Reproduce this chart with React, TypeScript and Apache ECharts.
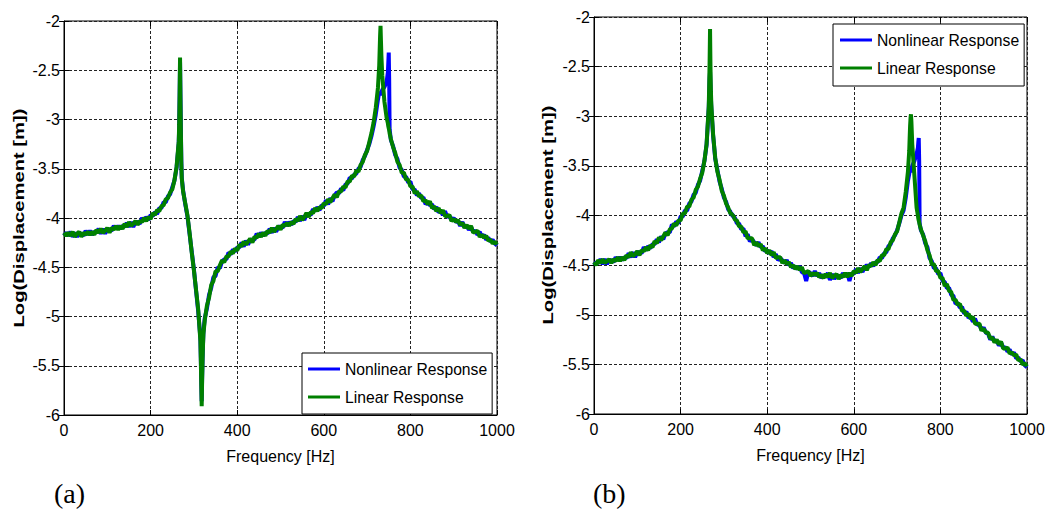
import React, { useEffect, useRef } from "react";
import * as echarts from "echarts";

// Frequency samples [Hz] shared by all four curves
const FREQ = [
  0, 5, 10, 15, 20, 25, 30, 35, 40, 45, 50, 55, 60, 65, 70, 75, 80, 85, 90, 95,
  100, 105, 110, 115, 120, 125, 130, 135, 140, 145, 150, 155, 160, 165, 170, 175, 180, 185, 190, 195,
  200, 205, 210, 215, 220, 225, 230, 235, 240, 245, 250, 255, 260,
  265, 266, 267, 268, 269, 270, 271, 272, 275,
  280, 285, 290, 295, 300, 305, 310, 315,
  316, 317, 318, 319, 320, 321, 322, 325,
  330, 335, 340, 345, 350, 355, 360, 365, 370, 375, 380, 385, 390, 395, 400, 405, 410, 415, 420, 425,
  430, 435, 440, 445, 450, 455, 460, 465, 470, 475, 480, 485, 490, 495, 500, 505, 510, 515, 520, 525,
  530, 535, 540, 545, 550, 555, 560, 565, 570, 575, 580, 585, 590, 595, 600, 605, 610, 615, 620, 625,
  630, 635, 640, 645, 650, 655, 660, 665, 670, 675, 680, 685, 690, 695, 700, 705, 710, 715, 720, 725,
  728, 729, 730, 731, 732, 733, 735, 740, 745,
  748, 749, 750, 751, 752, 755,
  760, 765, 770, 775, 780, 785, 790, 795, 800, 805, 810, 815, 820, 825, 830, 835, 840, 845, 850, 855,
  860, 865, 870, 875, 880, 885, 890, 895, 900, 905, 910, 915, 920, 925, 930, 935, 940, 945, 950, 955,
  960, 965, 970, 975, 980, 985, 990, 995, 1000,
];

// Panel (a) - nonlinear response
const NONLIN_A = [
  -4.18, -4.15, -4.18, -4.14, -4.19, -4.15, -4.19, -4.15, -4.16, -4.18, -4.13, -4.17, -4.13, -4.17, -4.14, -4.15, -4.11, -4.16, -4.11, -4.16,
  -4.11, -4.12, -4.13, -4.08, -4.11, -4.08, -4.11, -4.08, -4.09, -4.05, -4.09, -4.04, -4.09, -4.04, -4.04, -4.06, -4.0, -4.03, -3.99, -4.02,
  -3.97, -3.98, -3.94, -3.96, -3.9, -3.9, -3.84, -3.84, -3.78, -3.76, -3.69, -3.62, -3.49,
  -3.24, -3.08, -2.78, -2.42, -2.78, -3.12, -3.43, -3.59, -3.72,
  -3.86, -3.98, -4.16, -4.34, -4.52, -4.74, -4.95, -5.22,
  -5.42, -5.66, -5.86, -5.62, -5.43, -5.28, -5.16, -5.02,
  -4.92, -4.78, -4.71, -4.6, -4.59, -4.5, -4.51, -4.44, -4.42, -4.42, -4.35, -4.37, -4.32, -4.34, -4.3, -4.3, -4.25, -4.29, -4.23, -4.27,
  -4.22, -4.22, -4.22, -4.16, -4.19, -4.15, -4.18, -4.15, -4.16, -4.11, -4.15, -4.1, -4.14, -4.09, -4.09, -4.1, -4.04, -4.08, -4.04, -4.07,
  -4.03, -4.04, -3.99, -4.03, -3.98, -4.02, -3.96, -3.96, -3.97, -3.91, -3.93, -3.89, -3.92, -3.87, -3.88, -3.82, -3.86, -3.8, -3.83, -3.77,
  -3.74, -3.75, -3.7, -3.72, -3.66, -3.65, -3.59, -3.6, -3.56, -3.55, -3.5, -3.48, -3.41, -3.37, -3.31, -3.25, -3.17, -3.07, -2.95, -2.8,
  -2.72, -2.73, -2.74, -2.75, -2.74, -2.72, -2.7, -2.67, -2.62,
  -2.52, -2.42, -2.32, -2.6, -3.1, -3.21,
  -3.27, -3.36, -3.4, -3.49, -3.51, -3.58, -3.58, -3.64, -3.63, -3.71, -3.71, -3.77, -3.75, -3.8, -3.79, -3.86, -3.84, -3.87, -3.86, -3.91,
  -3.89, -3.94, -3.93, -3.97, -3.93, -3.99, -3.98, -4.02, -4.0, -4.04, -4.03, -4.08, -4.04, -4.09, -4.08, -4.12, -4.09, -4.14, -4.13, -4.17,
  -4.14, -4.19, -4.17, -4.22, -4.2, -4.24, -4.22, -4.26, -4.28,
];

// Panel (a) - linear response
const LIN_A = [
  -4.15, -4.18, -4.15, -4.18, -4.14, -4.19, -4.16, -4.14, -4.19, -4.15, -4.17, -4.14, -4.17, -4.14, -4.17, -4.12, -4.15, -4.11, -4.15, -4.13,
  -4.1, -4.15, -4.1, -4.12, -4.08, -4.12, -4.08, -4.11, -4.06, -4.09, -4.04, -4.08, -4.06, -4.03, -4.07, -4.03, -4.04, -4.0, -4.03, -3.99,
  -4.01, -3.95, -3.97, -3.92, -3.93, -3.88, -3.87, -3.81, -3.8, -3.74, -3.71, -3.62, -3.48,
  -3.22, -3.05, -2.75, -2.37, -2.8, -3.15, -3.45, -3.6, -3.73,
  -3.85, -3.97, -4.15, -4.35, -4.53, -4.73, -4.93, -5.25,
  -5.45, -5.7, -5.91, -5.65, -5.45, -5.3, -5.18, -5.04,
  -4.89, -4.81, -4.68, -4.64, -4.54, -4.54, -4.48, -4.43, -4.45, -4.39, -4.39, -4.34, -4.36, -4.31, -4.33, -4.27, -4.29, -4.24, -4.27, -4.24,
  -4.21, -4.25, -4.19, -4.2, -4.16, -4.19, -4.15, -4.18, -4.13, -4.15, -4.1, -4.14, -4.11, -4.08, -4.12, -4.07, -4.08, -4.05, -4.08, -4.04,
  -4.06, -4.01, -4.03, -3.98, -4.02, -3.99, -3.95, -3.99, -3.94, -3.95, -3.9, -3.93, -3.89, -3.9, -3.85, -3.86, -3.81, -3.84, -3.8, -3.76,
  -3.79, -3.73, -3.73, -3.68, -3.69, -3.63, -3.63, -3.57, -3.58, -3.52, -3.53, -3.46, -3.43, -3.36, -3.32, -3.23, -3.14, -3.03, -2.88, -2.68,
  -2.45, -2.3, -2.15, -2.05, -2.2, -2.35, -2.55, -2.82, -2.98,
  -3.04, -3.07, -3.09, -3.11, -3.14, -3.2,
  -3.28, -3.34, -3.43, -3.46, -3.54, -3.54, -3.61, -3.61, -3.68, -3.68, -3.75, -3.73, -3.78, -3.77, -3.83, -3.82, -3.86, -3.83, -3.9, -3.88,
  -3.93, -3.9, -3.95, -3.92, -3.98, -3.98, -3.97, -4.03, -4.01, -4.04, -4.02, -4.07, -4.05, -4.1, -4.07, -4.11, -4.08, -4.15, -4.14, -4.13,
  -4.19, -4.17, -4.2, -4.18, -4.23, -4.22, -4.26, -4.24, -4.27,
];

// Panel (b) - nonlinear response
const NONLIN_B = [
  -4.5, -4.47, -4.48, -4.44, -4.49, -4.44, -4.49, -4.45, -4.45, -4.47, -4.42, -4.45, -4.42, -4.45, -4.42, -4.43, -4.38, -4.42, -4.37, -4.42,
  -4.37, -4.37, -4.38, -4.32, -4.35, -4.31, -4.33, -4.29, -4.29, -4.24, -4.27, -4.21, -4.24, -4.18, -4.17, -4.17, -4.09, -4.11, -4.06, -4.08,
  -4.01, -4.01, -3.95, -3.95, -3.88, -3.86, -3.79, -3.77, -3.69, -3.65, -3.55, -3.45, -3.29,
  -2.92, -2.78, -2.62, -2.55, -2.68, -2.82, -2.92, -2.99, -3.19,
  -3.43, -3.54, -3.66, -3.73, -3.82, -3.86, -3.94, -3.96,
  -3.99, -3.97, -4.0, -3.98, -4.01, -3.99, -4.02, -4.02,
  -4.08, -4.08, -4.14, -4.13, -4.21, -4.19, -4.26, -4.24, -4.27, -4.3, -4.27, -4.32, -4.31, -4.36, -4.35, -4.38, -4.36, -4.42, -4.39, -4.45,
  -4.43, -4.45, -4.48, -4.45, -4.5, -4.48, -4.53, -4.51, -4.54, -4.51, -4.57, -4.58, -4.66, -4.57, -4.58, -4.61, -4.56, -4.61, -4.58, -4.63,
  -4.6, -4.62, -4.58, -4.65, -4.59, -4.64, -4.6, -4.61, -4.63, -4.58, -4.61, -4.58, -4.66, -4.58, -4.59, -4.54, -4.58, -4.53, -4.57, -4.52,
  -4.5, -4.52, -4.48, -4.51, -4.47, -4.47, -4.42, -4.43, -4.38, -4.37, -4.31, -4.29, -4.23, -4.2, -4.15, -4.08, -4.0, -3.95, -3.82, -3.65,
  -3.58, -3.55, -3.54, -3.55, -3.56, -3.55, -3.5, -3.45, -3.38,
  -3.32, -3.26, -3.22, -3.45, -4.08, -4.15,
  -4.19, -4.28, -4.32, -4.43, -4.46, -4.53, -4.53, -4.59, -4.58, -4.66, -4.67, -4.73, -4.73, -4.8, -4.81, -4.89, -4.88, -4.93, -4.92, -4.99,
  -4.97, -5.03, -5.02, -5.07, -5.04, -5.1, -5.1, -5.15, -5.13, -5.18, -5.19, -5.25, -5.22, -5.27, -5.26, -5.31, -5.28, -5.33, -5.33, -5.37,
  -5.35, -5.4, -5.38, -5.44, -5.43, -5.47, -5.46, -5.51, -5.53,
];

// Panel (b) - linear response
const LIN_B = [
  -4.47, -4.5, -4.45, -4.48, -4.44, -4.48, -4.46, -4.44, -4.48, -4.44, -4.46, -4.42, -4.46, -4.42, -4.45, -4.4, -4.42, -4.37, -4.41, -4.39,
  -4.36, -4.4, -4.35, -4.36, -4.32, -4.35, -4.3, -4.32, -4.26, -4.28, -4.22, -4.25, -4.21, -4.17, -4.2, -4.14, -4.13, -4.08, -4.1, -4.05,
  -4.05, -3.98, -3.98, -3.91, -3.91, -3.84, -3.82, -3.74, -3.71, -3.63, -3.57, -3.45, -3.28,
  -2.9, -2.7, -2.45, -2.12, -2.5, -2.75, -2.88, -2.96, -3.18,
  -3.42, -3.56, -3.64, -3.75, -3.8, -3.88, -3.92, -3.98,
  -3.97, -3.99, -3.98, -4.0, -3.99, -4.01, -4.0, -4.04,
  -4.05, -4.11, -4.11, -4.17, -4.16, -4.23, -4.23, -4.23, -4.3, -4.27, -4.31, -4.29, -4.35, -4.33, -4.38, -4.35, -4.4, -4.37, -4.43, -4.42,
  -4.42, -4.48, -4.45, -4.49, -4.47, -4.52, -4.5, -4.54, -4.51, -4.55, -4.52, -4.58, -4.57, -4.56, -4.61, -4.58, -4.6, -4.58, -4.62, -4.6,
  -4.63, -4.59, -4.62, -4.58, -4.63, -4.61, -4.59, -4.64, -4.6, -4.62, -4.58, -4.62, -4.58, -4.61, -4.56, -4.58, -4.53, -4.57, -4.54, -4.51,
  -4.55, -4.5, -4.51, -4.47, -4.5, -4.45, -4.46, -4.4, -4.4, -4.34, -4.34, -4.27, -4.25, -4.19, -4.16, -4.07, -3.98, -3.92, -3.76, -3.56,
  -3.35, -3.22, -3.1, -3.02, -2.98, -3.05, -3.28, -3.6, -3.92,
  -4.0, -4.03, -4.05, -4.07, -4.09, -4.14,
  -4.2, -4.26, -4.35, -4.4, -4.49, -4.49, -4.56, -4.56, -4.63, -4.63, -4.71, -4.69, -4.76, -4.77, -4.85, -4.85, -4.9, -4.89, -4.96, -4.96,
  -5.01, -4.99, -5.04, -5.02, -5.09, -5.09, -5.09, -5.16, -5.14, -5.18, -5.18, -5.24, -5.23, -5.28, -5.25, -5.3, -5.27, -5.34, -5.34, -5.33,
  -5.39, -5.38, -5.41, -5.4, -5.46, -5.45, -5.5, -5.49, -5.52,
];

const SERIES_NAMES = ["Nonlinear Response", "Linear Response"];
const SERIES_COLORS = ["#0000ff", "#008000"];
const PANEL_LABELS = ["(a)", "(b)"];
const X_NAME = "Frequency [Hz]";
const Y_NAME = "Log(Displacement [m])";
const X_RANGE = [0, 1000, 200];
const Y_RANGE = [-6, -2, 0.5];

const SANS = "'Liberation Sans', Arial, sans-serif";
const SERIF = "'Liberation Serif', 'Times New Roman', serif";

const GRIDS = [
  { left: 64, top: 21, width: 433, height: 394 },
  { left: 594, top: 17, width: 433, height: 397 },
];

function buildOption() {
  const split = { show: true, lineStyle: { color: "#222", width: 1, type: [3, 2] } };
  const tick = { show: true, inside: true, length: 5, lineStyle: { color: "#000", width: 1 } };
  const axisLine = { show: true, onZero: false, lineStyle: { color: "#000", width: 1 } };
  const labelStyle = { color: "#000", fontFamily: SANS, fontSize: 16 };

  const xAxis: any[] = [];
  const yAxis: any[] = [];
  GRIDS.forEach((_, g) => {
    xAxis.push({
      type: "value", gridIndex: g, min: X_RANGE[0], max: X_RANGE[1], interval: X_RANGE[2],
      axisLine, axisTick: tick, splitLine: split,
      axisLabel: { ...labelStyle, margin: 7, formatter: (v: number) => String(v) },
      name: X_NAME, nameLocation: "middle", nameGap: 33,
      nameTextStyle: { ...labelStyle },
    });
    xAxis.push({
      type: "value", gridIndex: g, position: "top", min: X_RANGE[0], max: X_RANGE[1], interval: X_RANGE[2],
      axisLine: { show: false }, axisTick: tick, splitLine: { show: false }, axisLabel: { show: false },
    });
    yAxis.push({
      type: "value", gridIndex: g, min: Y_RANGE[0], max: Y_RANGE[1], interval: Y_RANGE[2],
      axisLine, axisTick: tick, splitLine: split,
      axisLabel: { ...labelStyle, margin: 4, formatter: (v: number) => String(v) },
    });
    yAxis.push({
      type: "value", gridIndex: g, position: "right", min: Y_RANGE[0], max: Y_RANGE[1], interval: Y_RANGE[2],
      axisLine: { show: false }, axisTick: tick, splitLine: { show: false }, axisLabel: { show: false },
    });
  });

  const panels = [
    [NONLIN_A, LIN_A],
    [NONLIN_B, LIN_B],
  ];
  const series: any[] = [];
  panels.forEach((pair, g) => {
    pair.forEach((vals, k) => {
      series.push({
        name: SERIES_NAMES[k],
        type: "line",
        xAxisIndex: g * 2,
        yAxisIndex: g * 2,
        data: FREQ.map((f, i) => [f, vals[i]]),
        showSymbol: false,
        symbol: "none",
        silent: true,
        lineStyle: { width: 4, color: SERIES_COLORS[k] },
        itemStyle: { color: SERIES_COLORS[k] },
        z: 3 + k,
      });
    });
  });

  const legendBase = {
    data: SERIES_NAMES,
    orient: "vertical",
    icon: "rect",
    itemWidth: 32,
    itemHeight: 3,
    itemGap: 8,
    backgroundColor: "#fff",
    borderColor: "#000",
    borderWidth: 1,
    borderRadius: 0,
    selectedMode: false,
    textStyle: { color: "#000", fontFamily: SANS, fontSize: 15.7, lineHeight: 20 },
    z: 10,
  };

  const yNameCenters = [
    [18.5, 218],
    [548, 215],
  ];
  const panelLabelPos = [
    [54, 493],
    [593, 493],
  ];

  const graphic: any[] = [];
  GRIDS.forEach((_, g) => {
    graphic.push({
      type: "text",
      x: yNameCenters[g][0],
      y: yNameCenters[g][1],
      rotation: Math.PI / 2,
      scaleX: 1.35,
      silent: true,
      style: {
        text: Y_NAME,
        fill: "#000",
        fontFamily: SANS,
        fontSize: 15,
        fontWeight: "bold",
        align: "center",
        verticalAlign: "middle",
      },
    });
    graphic.push({
      type: "text",
      x: panelLabelPos[g][0],
      y: panelLabelPos[g][1],
      silent: true,
      style: {
        text: PANEL_LABELS[g],
        fill: "#000",
        fontFamily: SERIF,
        fontSize: 28,
        align: "left",
        verticalAlign: "middle",
      },
    });
  });

  return {
    animation: false,
    backgroundColor: "#fff",
    grid: GRIDS.map((g) => ({ ...g, show: true, borderColor: "#000", borderWidth: 1, backgroundColor: "transparent", containLabel: false })),
    xAxis,
    yAxis,
    legend: [
      { ...legendBase, left: 302, top: 353, padding: [6, 5, 7, 6] },
      { ...legendBase, left: 833, top: 24, padding: [6, 5, 8, 7] },
    ],
    series,
    graphic,
  };
}

export default function App() {
  const ref = useRef<HTMLDivElement>(null);
  useEffect(() => {
    if (!ref.current) return;
    const chart = echarts.init(ref.current, undefined, { renderer: "svg" });
    chart.setOption(buildOption() as any);
    return () => chart.dispose();
  }, []);
  return (
    <div
      ref={ref}
      style={{ position: "absolute", left: 0, top: 0, width: 1053, height: 509, background: "#fff" }}
    />
  );
}
